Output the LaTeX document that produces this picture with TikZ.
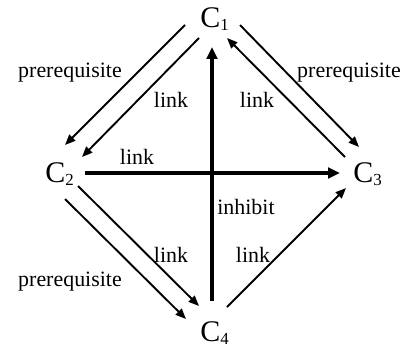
\documentclass[tikz,border=0pt]{standalone}
\usepackage{fontspec}
\setmainfont{Liberation Serif}
\usetikzlibrary{arrows.meta}
\newcommand{\cname}[1]{C\raisebox{-2.2pt}{\fontsize{12}{12}\selectfont #1}}

\begin{document}
\begin{tikzpicture}[
  con/.style={inner sep=0pt, anchor=base west, font=\fontsize{21.3}{24}\selectfont},
  lbl/.style={font=\fontsize{15.6}{18}\selectfont, inner sep=0pt},
  rel/.style={-{Triangle[length=7.5pt,width=6pt]}, line width=1.35pt},
  main/.style={-{Triangle[length=8.5pt,width=7.5pt]}, line width=2.5pt}]
  \useasboundingbox (0,0) rectangle (10.2,8.675);
  % the four concepts
  \node[con] (c1) at (5.0,8.0)   {\cname{1}};
  \node[con] (c2) at (1.125,4.125) {\cname{2}};
  \node[con] (c3) at (8.825,4.125) {\cname{3}};
  \node[con] (c4) at (5.0,0.15)  {\cname{4}};
  % upper edges
  \draw[rel] ([shift={(-0.375,0.05)}]c1.base west) -- ([shift={(0.5,0.925)}]c2.base west);
  \draw[rel] ([shift={(-0.025,-0.275)}]c1.base west) -- ([shift={(0.925,0.625)}]c2.base west);
  \draw[rel] ([shift={(1.0,0.05)}]c1.base west) -- ([shift={(0.15,0.875)}]c3.base west);
  \draw[rel] ([shift={(-0.2,0.625)}]c3.base west) -- ([shift={(0.675,-0.275)}]c1.base west);
  % cross
  \draw[main] ([shift={(1.0,0.225)}]c2.base west) -- ([shift={(-0.325,0.225)}]c3.base west);
  \draw[main] ([shift={(0.3,1.0)}]c4.base west) -- ([shift={(0.3,-0.5)}]c1.base west);
  % lower edges
  \draw[rel] ([shift={(0.825,-0.1)}]c2.base west) -- ([shift={(-0.025,0.875)}]c4.base west);
  \draw[rel] ([shift={(0.5,-0.425)}]c2.base west) -- ([shift={(-0.35,0.55)}]c4.base west);
  \draw[rel] ([shift={(0.675,0.85)}]c4.base west) -- ([shift={(-0.175,-0.15)}]c3.base west);
  % labels
  \node[lbl] (p12) at (1.75,6.85)  {prerequisite};
  \node[lbl] (l12) at (4.275,6.175) {link};
  \node[lbl] (l31) at (6.425,6.175) {link};
  \node[lbl] (p13) at (8.725,6.85) {prerequisite};
  \node[lbl] (l23) at (3.425,4.75) {link};
  \node[lbl] (inh) at (6.15,3.5)   {inhibit};
  \node[lbl] (l24) at (4.275,2.3)  {link};
  \node[lbl] (l43) at (6.325,2.3)  {link};
  \node[lbl] (p24) at (1.75,1.625) {prerequisite};
\end{tikzpicture}
\end{document}
